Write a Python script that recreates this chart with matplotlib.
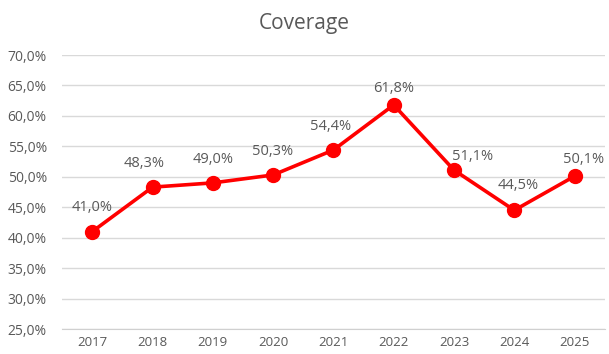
import matplotlib.pyplot as plt
from matplotlib.ticker import FuncFormatter

years = ['2017', '2018', '2019', '2020', '2021', '2022', '2023', '2024', '2025']
coverage = [41.0, 48.3, 49.0, 50.3, 54.4, 61.8, 51.1, 44.5, 50.1]

# label nudges in pixels (dx, dy) so the labels clear the line
label_shift = [(0, 24), (-8, 24), (0, 23), (-1, 23), (-3, 23),
               (0, 16), (19, 14), (4, 25), (9, 17)]

plt.rcParams['font.family'] = ['Open Sans', 'DejaVu Sans']
grey = '#595959'

fig = plt.figure(figsize=(6.09, 3.54), dpi=100)
ax = fig.add_axes([0.102, 0.0706, 0.891, 0.774])

x = list(range(len(years)))
ax.plot(x, coverage, color='#ff0000', lw=2.6, marker='o', ms=10, zorder=3)

# value labels above each point, comma decimal
for xi, v, (dx, dy) in zip(x, coverage, label_shift):
    ax.annotate(f'{v:.1f}%'.replace('.', ','), (xi, v), xytext=(dx, dy),
                textcoords='offset pixels', ha='center', va='center',
                fontsize=10.5, color=grey, zorder=4)

ax.set_xlim(-0.5, len(years) - 0.5)
ax.set_ylim(25, 70)
ax.set_yticks(range(25, 71, 5))
ax.yaxis.set_major_formatter(FuncFormatter(lambda v, p: f'{v:.1f}%'.replace('.', ',')))
ax.set_xticks(x)
ax.set_xticklabels(years)

ax.grid(axis='y', color='#d9d9d9', lw=1)
ax.set_axisbelow(True)
for s in ['top', 'right', 'left']:
    ax.spines[s].set_visible(False)
ax.spines['bottom'].set_color('#d0d0d0')
ax.tick_params(length=0, colors=grey)
ax.tick_params(axis='y', pad=11, labelsize=10)
ax.tick_params(axis='x', pad=5, labelsize=9.5)

fig.text(0.5, 0.935, 'Coverage', ha='center', va='center', fontsize=15, color=grey)

fig.savefig('out.png', dpi=100)
